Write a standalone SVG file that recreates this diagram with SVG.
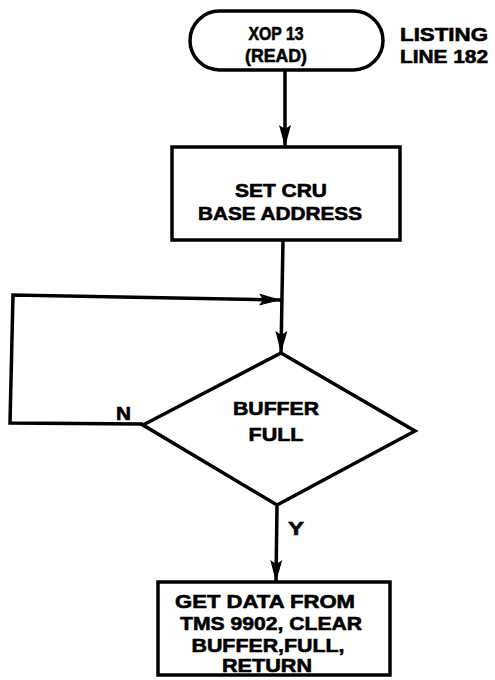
<svg xmlns="http://www.w3.org/2000/svg" width="495" height="680" viewBox="0 0 495 680">
<style>
.shape{fill:#fff;stroke:#000;stroke-width:3.5}
.line{fill:none;stroke:#000;stroke-width:3.5}
text{font-family:"Liberation Sans",Arial,sans-serif;font-weight:bold;font-size:19px;fill:#000;stroke:#000;stroke-width:0.6;text-anchor:middle}
.lbl{text-anchor:start}
</style>
<defs>
<marker id="arr" markerUnits="userSpaceOnUse" markerWidth="24" markerHeight="14" refX="22" refY="7" orient="auto">
<path d="M0,1 L22,7 L0,13 L4,7 Z" fill="#000"/>
</marker>
</defs>
<rect width="495" height="680" fill="#fff"/>
<g id="connectors">
<line class="line" x1="285" y1="70" x2="285" y2="147" marker-end="url(#arr)"/>
<line class="line" x1="283" y1="240" x2="281" y2="353" marker-end="url(#arr)"/>
<polyline class="line" points="143,424 10,423 13,295 281,300" marker-end="url(#arr)"/>
<line class="line" x1="277" y1="505" x2="276" y2="582" marker-end="url(#arr)"/>
<text class="lbl" x="116" y="420" textLength="15" lengthAdjust="spacingAndGlyphs">N</text>
<text class="lbl" x="288" y="535" textLength="16" lengthAdjust="spacingAndGlyphs">Y</text>
</g>
<g id="start">
<rect class="shape" x="190" y="11" width="193" height="59" rx="29.5" ry="29.5"/>
<text x="276" y="40" textLength="55" lengthAdjust="spacingAndGlyphs">XOP 13</text>
<text x="276" y="62" textLength="62" lengthAdjust="spacingAndGlyphs">(READ)</text>
</g>
<g id="note">
<text x="444" y="41" textLength="88" lengthAdjust="spacingAndGlyphs">LISTING</text>
<text x="444" y="63" textLength="88" lengthAdjust="spacingAndGlyphs">LINE 182</text>
</g>
<g id="setcru">
<rect class="shape" x="172" y="147" width="228" height="93"/>
<text x="281" y="197" textLength="92" lengthAdjust="spacingAndGlyphs">SET CRU</text>
<text x="280" y="220" textLength="164" lengthAdjust="spacingAndGlyphs">BASE ADDRESS</text>
</g>
<g id="decision">
<polygon class="shape" points="281,353 415,431 277,505 143,425"/>
<text x="276" y="415" textLength="86" lengthAdjust="spacingAndGlyphs">BUFFER</text>
<text x="276" y="441" textLength="55" lengthAdjust="spacingAndGlyphs">FULL</text>
</g>
<g id="getdata">
<rect class="shape" x="158" y="582" width="232" height="93"/>
<text x="265" y="608" textLength="180" lengthAdjust="spacingAndGlyphs">GET DATA FROM</text>
<text x="271" y="630" textLength="182" lengthAdjust="spacingAndGlyphs">TMS 9902, CLEAR</text>
<text x="268" y="652" textLength="153" lengthAdjust="spacingAndGlyphs">BUFFER,FULL,</text>
<text x="267" y="672" textLength="90" lengthAdjust="spacingAndGlyphs">RETURN</text>
</g>
</svg>
